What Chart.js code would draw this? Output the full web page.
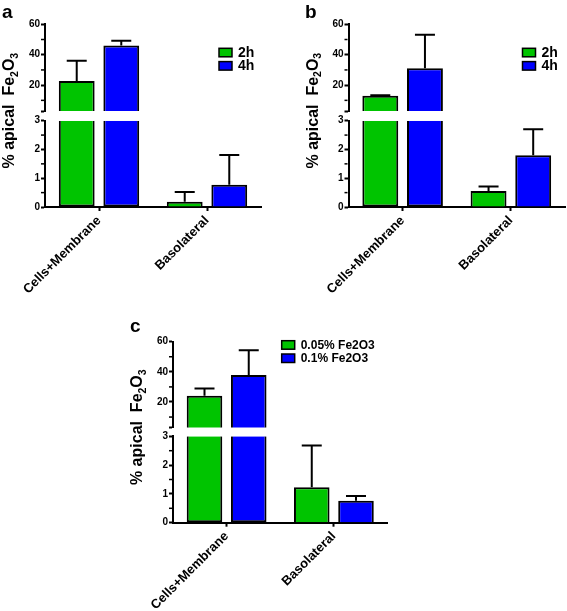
<!DOCTYPE html>
<html><head><meta charset="utf-8">
<script src="https://cdn.jsdelivr.net/npm/chart.js@4.4.1/dist/chart.umd.min.js"></script>
<style>
html,body{margin:0;padding:0;background:#fff;width:567px;height:611px;overflow:hidden;position:relative;}
canvas{position:absolute;}
.lbl{position:absolute;font:bold 19px "Liberation Sans",Arial,sans-serif;line-height:19px;color:#000;}
</style></head><body>
<canvas id="ca" width="280" height="305" style="left:0;top:0"></canvas>
<canvas id="cb" width="287" height="305" style="left:280px;top:0"></canvas>
<canvas id="cc" width="300" height="306" style="left:110px;top:305px"></canvas>
<div class="lbl" style="left:2px;top:2px">a</div>
<div class="lbl" style="left:305px;top:2px">b</div>
<div class="lbl" style="left:130px;top:316px">c</div>
<script>
// ---- data ----
const categories = ['Cells+Membrane', 'Basolateral'];
const labelsAB = ['2h', '4h'];
const labelsC = ['0.05% Fe2O3', '0.1% Fe2O3'];
const aGreen = [22.8, 0.18];
const aGreenErr = [13.3, 0.34];
const aBlue = [46.0, 0.77];
const aBlueErr = [3.2, 1.04];
const bGreen = [13.0, 0.56];
const bGreenErr = [0.3, 0.15];
const bBlue = [31.1, 1.80];
const bBlueErr = [22.1, 0.90];
const cGreen = [24.2, 1.23];
const cGreenErr = [4.8, 1.45];
const cBlue = [37.9, 0.76];
const cBlueErr = [16.5, 0.17];
const breakValue = 3;
const topMax = 60;
const topTicks = [3, 20, 40, 60];
const topMinor = [10, 30, 50];
const botTicks = [0, 1, 2, 3];
const botMinor = [0.5, 1.5, 2.5];
const yTitle = ['% apical  Fe', '2', 'O', '3'];

// ---- styles ----
const FONT = '"Liberation Sans", Arial, Helvetica, sans-serif';
const GREEN = '#00c400';
const BLUE = '#0000ff';

function makePanel(id, series, L) {
  const datasets = [];
  series.forEach((s, k) => {
    datasets.push({
      label: s.label, yAxisID: 'yBot', stack: 's' + k,
      data: s.values.map(v => Math.min(v, breakValue)),
      backgroundColor: s.color, borderColor: '#000', borderWidth: 2,
      borderSkipped: ctx => (s.values[ctx.dataIndex] > breakValue ? 'top' : 'start'),
      categoryPercentage: 0.825, barPercentage: 0.804
    });
    datasets.push({
      label: s.label, yAxisID: 'yTop', stack: 's' + k,
      data: s.values.map(v => (v > breakValue ? v : null)),
      backgroundColor: s.color, borderColor: '#000', borderWidth: 2,
      borderSkipped: 'start',
      categoryPercentage: 0.825, barPercentage: 0.804
    });
  });
  const yCommon = {
    type: 'linear', position: 'left', stack: 'y', stacked: false,
    grid: {display: true, drawOnChartArea: false, drawTicks: true, tickLength: 4, tickWidth: 2, tickColor: '#000'},
    border: {display: true, color: '#000', width: 2},
    ticks: {color: '#000', padding: 1, font: {family: FONT, weight: 'bold', size: 10}},
    afterFit: sc => { sc.width = L.left; }
  };
  const decor = {
    id: 'decor',
    afterDraw(chart) {
      const ctx = chart.ctx, area = chart.chartArea;
      const yT = chart.scales.yTop, yB = chart.scales.yBot;
      ctx.save();
      ctx.strokeStyle = '#000';
      // minor ticks
      ctx.lineWidth = 1.5;
      const ax = area.left - 1;
      [[yT, topMinor], [yB, botMinor]].forEach(([sc, vals]) => {
        vals.forEach(v => {
          const y = sc.getPixelForValue(v);
          ctx.beginPath(); ctx.moveTo(ax - 3, y); ctx.lineTo(ax, y); ctx.stroke();
        });
      });
      // error bars (upper only)
      ctx.lineWidth = 2;
      series.forEach((s, k) => {
        const meta = chart.getDatasetMeta(2 * k);
        s.values.forEach((v, i) => {
          const sc = v > breakValue ? yT : yB;
          const x = meta.data[i].x;
          const y0 = sc.getPixelForValue(v);
          const y1 = sc.getPixelForValue(v + s.errs[i]);
          ctx.beginPath();
          ctx.moveTo(x, y0); ctx.lineTo(x, y1);
          ctx.moveTo(x - 10, y1); ctx.lineTo(x + 10, y1);
          ctx.stroke();
        });
      });
      // legend
      ctx.font = 'bold ' + L.legFont + 'px ' + FONT;
      ctx.textBaseline = 'middle'; ctx.textAlign = 'left';
      ctx.lineWidth = 1.5;
      series.forEach((s, k) => {
        const x = L.legX, y = L.legY + k * 13.3;
        ctx.fillStyle = s.color; ctx.fillRect(x, y, 13, 8.5);
        ctx.strokeRect(x, y, 13, 8.5);
        ctx.fillStyle = '#000';
        ctx.fillText(s.label, x + 19, y + 4.8);
      });
      // y title with subscripts
      ctx.translate(area.left - 31, (area.top + area.bottom) / 2 - 5);
      ctx.rotate(-Math.PI / 2);
      const big = 'bold 16px ' + FONT, small = 'bold 10.5px ' + FONT;
      const parts = yTitle.map((t, i) => ({t, f: i % 2 ? small : big, dy: i % 2 ? 3.5 : 0}));
      let total = 0;
      parts.forEach(p => { ctx.font = p.f; p.w = ctx.measureText(p.t).width; total += p.w; });
      let cx = -total / 2;
      ctx.textBaseline = 'alphabetic';
      parts.forEach(p => { ctx.font = p.f; ctx.fillText(p.t, cx, p.dy); cx += p.w; });
      ctx.restore();
    }
  };
  new Chart(document.getElementById(id), {
    type: 'bar',
    data: {labels: categories, datasets},
    options: {
      responsive: false, animation: false,
      layout: {padding: {left: 0, right: L.W - L.right, top: L.top, bottom: 0}},
      plugins: {legend: {display: false}, tooltip: {enabled: false}},
      scales: {
        x: {
          type: 'category', offset: true,
          grid: {display: true, offset: false, drawOnChartArea: false, drawTicks: true, tickLength: 4, tickWidth: 2, tickColor: '#000'},
          border: {display: true, color: '#000', width: 2},
          ticks: {color: '#000', padding: 2, autoSkip: false, minRotation: 45, maxRotation: 45, font: {family: FONT, weight: 'bold', size: 13}},
          afterFit: sc => { sc.height = L.H - L.bottom; }
        },
        yTop: Object.assign({}, yCommon, {
          min: breakValue, max: topMax, weight: 3, stackWeight: L.wTop,
          afterBuildTicks: sc => { sc.ticks = topTicks.map(v => ({value: v})); },
          ticks: Object.assign({}, yCommon.ticks, {callback: v => (v === breakValue ? '' : v)})
        }),
        ySpace: {
          type: 'linear', position: 'left', stack: 'y', min: 0, max: 1, weight: 2, stackWeight: L.wGap,
          grid: {display: false}, border: {display: false}, ticks: {display: false},
          afterFit: sc => { sc.width = L.left; }
        },
        yBot: Object.assign({}, yCommon, {
          min: 0, max: breakValue, weight: 1, stackWeight: L.wBot,
          afterBuildTicks: sc => { sc.ticks = botTicks.map(v => ({value: v})); }
        })
      }
    },
    plugins: [decor]
  });
}

makePanel('ca', [
  {label: labelsAB[0], values: aGreen, errs: aGreenErr, color: GREEN},
  {label: labelsAB[1], values: aBlue, errs: aBlueErr, color: BLUE}
], {W: 280, H: 305, left: 45, right: 261, top: 24.3, bottom: 207, wTop: 86.7, wGap: 9.7, wBot: 86.3, legX: 219, legY: 48.3, legFont: 14});

makePanel('cb', [
  {label: labelsAB[0], values: bGreen, errs: bGreenErr, color: GREEN},
  {label: labelsAB[1], values: bBlue, errs: bBlueErr, color: BLUE}
], {W: 287, H: 305, left: 68.5, right: 285, top: 24.3, bottom: 207, wTop: 86.7, wGap: 9.7, wBot: 86.3, legX: 242.5, legY: 48.3, legFont: 14});

makePanel('cc', [
  {label: labelsC[0], values: cGreen, errs: cGreenErr, color: GREEN},
  {label: labelsC[1], values: cBlue, errs: cBlueErr, color: BLUE}
], {W: 300, H: 306, left: 63, right: 277.5, top: 36.7, bottom: 217.7, wTop: 85.9, wGap: 8.7, wBot: 86.4, legX: 171.7, legY: 35.7, legFont: 12});
</script>
</body></html>
